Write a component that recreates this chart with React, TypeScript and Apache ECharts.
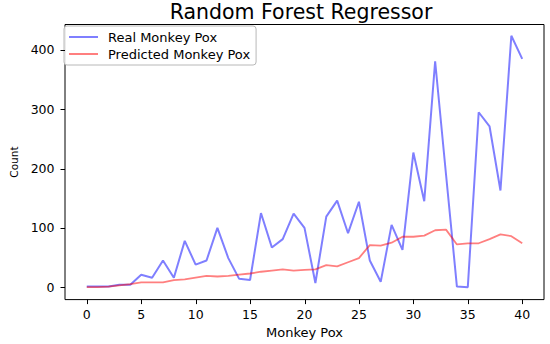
import React, { useEffect, useRef } from "react";
import * as echarts from "echarts";

const titleText = "Random Forest Regressor";
const seriesNames = ["Real Monkey Pox", "Predicted Monkey Pox"];
const realValues = [1, 1, 1, 4, 4, 21, 16, 45, 16, 78, 38, 45, 100, 49, 14, 12, 125, 67, 81, 124, 100, 7, 119, 146, 91, 144, 45, 9, 105, 63, 227, 145, 381, 190, 1, 0, 295, 271, 163, 424, 385];
const predictedValues = [0, 0, 1, 3, 5, 8, 8, 8, 12, 13, 16, 19, 18, 19, 21, 23, 26, 28, 30, 28, 29, 30, 37, 35, 42, 49, 71, 70, 75, 85, 85, 87, 96, 97, 72, 74, 74, 81, 89, 86, 74];
const xTicks = [0, 5, 10, 15, 20, 25, 30, 35, 40];
const yTicks = [0, 100, 200, 300, 400];

const FONT = "DejaVu Sans";
const X_MIN = -2;
const X_MAX = 42;
const Y_MIN = -21;
const Y_MAX = 443;

export default function App() {
  const ref = useRef<HTMLDivElement>(null);
  useEffect(() => {
    document.body.style.margin = "0";
    const chart = echarts.init(ref.current!, undefined, { renderer: "svg" });
    const toPairs = (arr: number[]) => arr.map((v, i) => [i, v]);
    const tickSeries = (data: number[][], vertical: boolean) => ({
      type: "custom",
      silent: true,
      clip: false,
      z: 10,
      data,
      renderItem: (_params: any, api: any) => {
        const p = api.coord([api.value(0), api.value(1)]);
        if (vertical) {
          const x = Math.round(p[0]) + 0.5;
          return { type: "line", shape: { x1: x, y1: p[1], x2: x, y2: p[1] + 4.5 }, style: { stroke: "#000", lineWidth: 1 } };
        }
        const y = Math.round(p[1]) + 0.5;
        return { type: "line", shape: { x1: p[0] - 4.5, y1: y, x2: p[0], y2: y }, style: { stroke: "#000", lineWidth: 1 } };
      },
    });
    chart.setOption({
      animation: false,
      textStyle: { fontFamily: FONT },
      graphic: [
        {
          type: "text",
          x: 301,
          y: 12,
          style: {
            text: titleText,
            fontFamily: FONT,
            fontSize: 20.5,
            fill: "#000",
            textAlign: "center",
            textVerticalAlign: "middle",
          },
        },
      ],
      grid: {
        left: 58,
        right: 6,
        top: 24.5,
        bottom: 38,
        show: true,
        borderColor: "#000",
        borderWidth: 1,
        backgroundColor: "#fff",
      },
      legend: {
        orient: "vertical",
        left: 64,
        top: 26,
        padding: [4, 6, 4, 5],
        itemGap: 3,
        itemWidth: 29,
        itemHeight: 2,
        icon: "rect",
        backgroundColor: "rgba(255,255,255,0.85)",
        borderColor: "#b8b8b8",
        borderWidth: 1,
        borderRadius: 3,
        textStyle: { fontFamily: FONT, fontSize: 13, color: "#000", padding: [0, 0, 0, 5], lineHeight: 14 },
        data: seriesNames,
      },
      xAxis: {
        type: "value",
        min: X_MIN,
        max: X_MAX,
        name: "Monkey Pox",
        nameLocation: "middle",
        nameGap: 23,
        nameTextStyle: { fontFamily: FONT, fontSize: 13, color: "#000" },
        axisLine: { show: false, onZero: false },
        splitLine: { show: false },
        axisTick: { show: false },
        axisLabel: { customValues: xTicks, fontFamily: FONT, fontSize: 12.5, color: "#000", margin: 8.5 },
      },
      yAxis: {
        type: "value",
        min: Y_MIN,
        max: Y_MAX,
        name: "Count",
        nameLocation: "middle",
        nameGap: 46,
        nameTextStyle: { fontFamily: FONT, fontSize: 10.5, color: "#000" },
        axisLine: { show: false, onZero: false },
        splitLine: { show: false },
        axisTick: { show: false },
        axisLabel: { customValues: yTicks, fontFamily: FONT, fontSize: 12.5, color: "#000", margin: 10.5 },
      },
      series: [
        {
          name: seriesNames[0],
          type: "line",
          data: toPairs(realValues),
          showSymbol: false,
          color: "rgba(0,0,255,0.5)",
          lineStyle: { width: 2, color: "rgba(0,0,255,0.5)" },
        },
        {
          name: seriesNames[1],
          type: "line",
          data: toPairs(predictedValues),
          showSymbol: false,
          color: "rgba(255,0,0,0.5)",
          lineStyle: { width: 1.8, color: "rgba(255,0,0,0.5)" },
        },
        tickSeries(xTicks.map((v) => [v, Y_MIN]), true),
        tickSeries(yTicks.map((v) => [X_MIN, v]), false),
      ],
    });
    return () => chart.dispose();
  }, []);
  return <div ref={ref} style={{ width: 550, height: 344 }} />;
}
